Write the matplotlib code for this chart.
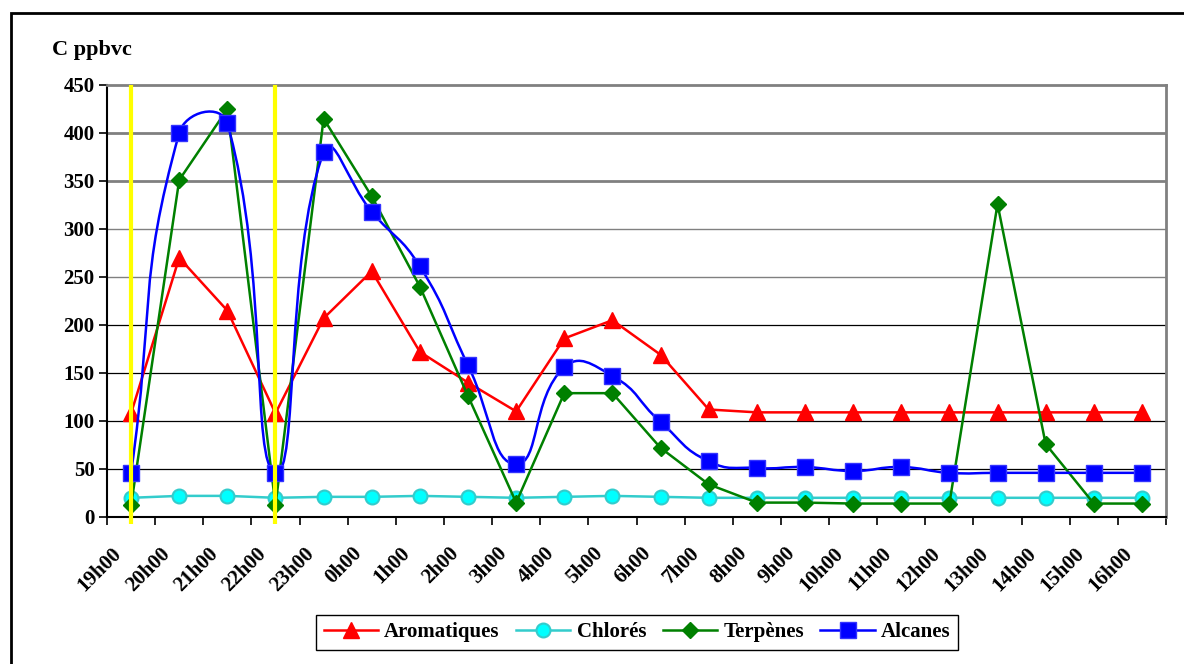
#!/usr/bin/env python3
"""Concentrations (C ppbvc) par famille de COV, 19h00 -> 16h00."""

import numpy as np
import matplotlib
matplotlib.use("Agg")
import matplotlib.pyplot as plt
from matplotlib.path import Path
from matplotlib.patches import PathPatch, Rectangle
from matplotlib.lines import Line2D
from matplotlib.transforms import offset_copy

hours = ["19h00", "20h00", "21h00", "22h00", "23h00", "0h00", "1h00", "2h00",
         "3h00", "4h00", "5h00", "6h00", "7h00", "8h00", "9h00", "10h00",
         "11h00", "12h00", "13h00", "14h00", "15h00", "16h00"]

aromatiques = [108, 270, 215, 108, 207, 256, 172, 140, 110, 186, 205, 169,
               112, 109, 109, 109, 109, 109, 109, 109, 109, 109]
chlores = [20, 22, 22, 20, 21, 21, 22, 21, 20, 21, 22, 21,
           20, 20, 20, 20, 20, 20, 20, 20, 20, 20]
terpenes = [12, 351, 425, 12, 415, 334, 240, 126, 15, 129, 129, 72,
            34, 15, 15, 14, 14, 14, 326, 76, 14, 14]
alcanes = [46, 400, 410, 46, 380, 318, 261, 158, 55, 156, 147, 99,
           58, 51, 52, 48, 52, 46, 46, 46, 46, 46]

# hours marked by the yellow lines
marked = ["19h00", "22h00"]

yticks = [0, 50, 100, 150, 200, 250, 300, 350, 400, 450]

plt.rcParams["font.family"] = ["Liberation Serif", "DejaVu Serif"]
plt.rcParams["font.weight"] = "bold"
FS = 15


def excel_smooth_path(ax, x, y, tension=0.5):
    """Bezier path through the points, Excel-like 'smoothed line'."""
    pts = np.column_stack([x, y]).astype(float)
    disp = ax.transData.transform(pts)
    n = len(pts)
    verts = [pts[0]]
    codes = [Path.MOVETO]
    for i in range(n - 1):
        p0 = pts[i - 1] if i > 0 else pts[i]
        p1, p2 = pts[i], pts[i + 1]
        p3 = pts[i + 2] if i + 2 < n else pts[i + 1]
        d0 = disp[i - 1] if i > 0 else disp[i]
        d1, d2 = disp[i], disp[i + 1]
        d3 = disp[i + 2] if i + 2 < n else disp[i + 1]
        a = np.hypot(*(d1 - d0))
        b = np.hypot(*(d2 - d1))
        c = np.hypot(*(d3 - d2))
        f1 = tension * b / (a + b) if a + b > 0 else 0
        f2 = tension * b / (b + c) if b + c > 0 else 0
        c1 = p1 + f1 * (p2 - p0)
        c2 = p2 - f2 * (p3 - p1)
        verts += [c1, c2, p2]
        codes += [Path.CURVE4] * 3
    return Path(verts, codes)


def main():
    fig = plt.figure(figsize=(11.84, 6.64), dpi=100)
    ax = fig.add_axes([107 / 1184, 1 - 517 / 664, (1166 - 107) / 1184, (517 - 85) / 664])

    x = np.arange(len(hours))
    ax.set_xlim(-0.5, len(hours) - 0.5)
    ax.set_ylim(0, 450)

    # gridlines
    for v in yticks[1:-1]:
        if v >= 350:
            ax.axhline(v, color="#808080", lw=2, zorder=1)
        elif v >= 250:
            ax.axhline(v, color="#808080", lw=1, zorder=1)
        else:
            ax.axhline(v, color="black", lw=0.9, zorder=1)

    ms = 10
    ax.plot(x, aromatiques, color="#FF0000", lw=1.8, marker="^", ms=ms + 2,
            mec="#FF0000", mfc="#FF0000", zorder=3, label="Aromatiques")
    ax.plot(x, chlores, color="#33CCCC", lw=1.8, marker="o", ms=ms,
            mec="#33CCCC", mfc="#00FFFF", mew=1.5, zorder=3, label="Chlorés")
    ax.plot(x, terpenes, color="#008000", lw=1.8, marker="D", ms=ms - 2,
            mec="#008000", mfc="#008000", zorder=4, label="Terpènes")

    fig.canvas.draw()
    ax.add_patch(PathPatch(excel_smooth_path(ax, x, alcanes), fill=False,
                           edgecolor="#0000FF", lw=1.8, zorder=5))
    ax.plot(x, alcanes, ls="none", marker="s", ms=ms + 1, mec="#3333FF",
            mfc="#0000FF", zorder=5)

    for h in marked:
        ax.plot([hours.index(h)] * 2, [-7, 450], color="#FFFF00", lw=3,
                zorder=6, clip_on=False, solid_capstyle="butt")

    # axes
    for s in ("left", "bottom"):
        ax.spines[s].set_color("black")
        ax.spines[s].set_linewidth(1.5)
    for s in ("top", "right"):
        ax.spines[s].set_color("#808080")
        ax.spines[s].set_linewidth(2)

    ax.set_yticks(yticks)
    ax.set_yticklabels([str(v) for v in yticks], fontsize=FS, fontweight="bold")
    ax.tick_params(axis="y", direction="out", length=6, width=1.2, pad=3)

    ax.set_xticks(x)
    ax.set_xticks(np.arange(-0.5, len(hours)), minor=True)
    ax.tick_params(axis="x", which="major", length=0, pad=0)
    ax.tick_params(axis="x", which="minor", direction="out", length=6, width=1.2)
    ax.set_xticklabels(hours, fontsize=FS, fontweight="bold", rotation=45,
                       ha="right", va="top", rotation_mode="anchor")
    for lab in ax.get_xticklabels():
        lab.set_transform(offset_copy(lab.get_transform(), fig=fig, x=-14, y=-19, units="points"))

    fig.text(52 / 1184, 1 - 50 / 664, "C ppbvc", fontsize=FS + 1, fontweight="bold",
             ha="left", va="center")

    handles = [
        Line2D([], [], color="#FF0000", lw=1.8, marker="^", ms=ms + 2, mfc="#FF0000", mec="#FF0000"),
        Line2D([], [], color="#33CCCC", lw=1.8, marker="o", ms=ms, mfc="#00FFFF", mec="#33CCCC", mew=1.5),
        Line2D([], [], color="#008000", lw=1.8, marker="D", ms=ms - 2, mfc="#008000", mec="#008000"),
        Line2D([], [], color="#0000FF", lw=1.8, marker="s", ms=ms + 1, mfc="#0000FF", mec="#3333FF"),
    ]
    leg = fig.legend(handles, ["Aromatiques", "Chlorés", "Terpènes", "Alcanes"],
                     loc="upper center", bbox_to_anchor=(637 / 1184, 1 - 615 / 664),
                     ncol=4, fancybox=False, framealpha=1, edgecolor="black",
                     handlelength=2.6, handletextpad=0.3, columnspacing=0.8,
                     borderpad=0.35, borderaxespad=0,
                     prop={"size": FS, "weight": "bold"})
    leg.get_frame().set_linewidth(1.0)

    # outer chart frame
    fig.patches.append(Rectangle((11 / 1184, -0.1), 1.2, 1.1 - 13 / 664,
                                 transform=fig.transFigure, fill=False,
                                 edgecolor="black", lw=2))

    fig.savefig("out.png", dpi=100)
    plt.close(fig)


if __name__ == "__main__":
    main()
